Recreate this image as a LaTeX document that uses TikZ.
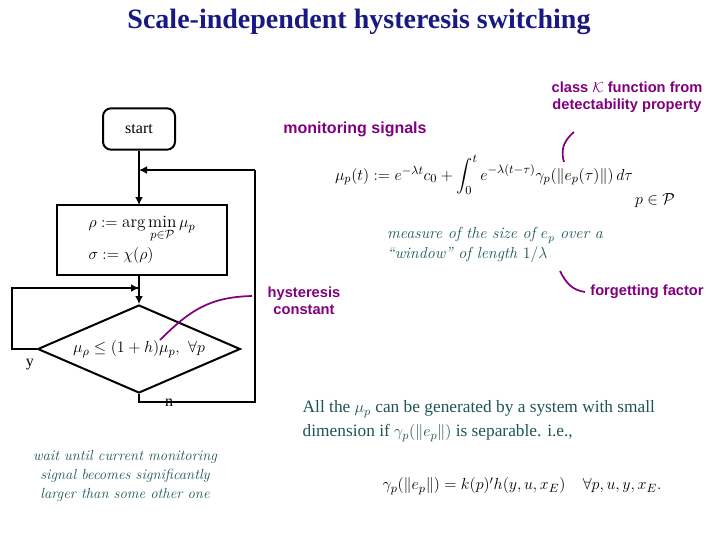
\documentclass[tikz,border=0pt]{standalone}
\usepackage{amsmath}
\usepackage{fontspec}
\newfontfamily\timesf{Liberation Serif}
\newfontfamily\arialf{Liberation Sans}
\usetikzlibrary{positioning,shapes.geometric,arrows.meta}
\definecolor{notepurple}{RGB}{128,0,128}
\definecolor{noteteal}{RGB}{30,85,85}
\definecolor{titleblue}{RGB}{25,25,130}
\tikzset{
  flow/.style={draw, line width=1.5pt},
  link/.style={line width=1.5pt, -{Latex[length=6pt,width=6pt]}},
  note/.style={text=notepurple, font=\arialf\bfseries\fontsize{11}{13}\selectfont, align=center},
  remark/.style={text=noteteal, font=\itshape\fontsize{12}{15}\selectfont, align=left},
  pointer/.style={notepurple, line width=1.3pt},
  bigmath/.style={font=\fontsize{13}{16}\selectfont}
}
\begin{document}
\begin{tikzpicture}[x=0.75pt,y=-0.75pt]
  \useasboundingbox (0,0) rectangle (720,540);
  \node (title) at (359,22) {\textcolor{titleblue}{\timesf\bfseries\fontsize{21}{24}\selectfont Scale-independent hysteresis switching}};

  % flow chart
  \node (start) [flow, rounded corners=6pt, minimum width=54pt, minimum height=31pt, font=\timesf\fontsize{12}{14}\selectfont] at (139,129) {start};
  \node (update) [flow, bigmath, minimum width=128pt, minimum height=52pt, align=left] at (142,240)
    {$\rho := \arg\min\limits_{p\in\mathcal{P}} \mu_p$\\[3pt] $\sigma := \chi(\rho)$};
  \node (test) [flow, bigmath, diamond, aspect=2.3, minimum width=152pt, minimum height=66pt, inner sep=0pt] at (139,349)
    {$\mu_\rho \le (1+h)\mu_p,\ \forall p$};
  \coordinate (back) at (139,170);
  \draw[link] (start.south) -- (139,205);
  \draw[line width=1.5pt] (test.south) -- ++(0,8) -| (255,170) coordinate (turn);
  \draw[link] (turn) -- (back);
  \draw[link] (139,275) -- (test.north);
  \draw[line width=1.5pt] (test.west) -- (12,349) |- (139,288) coordinate (join);
  \draw[link] (12,288) -- (join);
  \node (yes) [font=\timesf\fontsize{12}{14}\selectfont] at (30,365) {y};
  \node (no) [font=\timesf\fontsize{12}{14}\selectfont] at (169,403) {n};
  \node (waitnote) [text=noteteal, font=\itshape\fontsize{11}{14}\selectfont, align=center] at (125,476)
    {wait until current monitoring\\signal becomes significantly\\larger than some other one};

  % monitoring signals
  \node (mon) [note, font=\arialf\bfseries\fontsize{12}{14}\selectfont] at (355,129) {monitoring signals};
  \node (classk) [note] at (627,97) {class $\mathcal{K}$ function from\\detectability property};
  \node (mu) [bigmath] at (484,175) {$\mu_p(t) := e^{-\lambda t}c_0 + \displaystyle\int_0^t e^{-\lambda(t-\tau)}\gamma_p(\|e_p(\tau)\|)\,d\tau$};
  \node (pset) [bigmath] at (655,201) {$p\in\mathcal{P}$};
  \node (window) [remark] at (495,245) {measure of the size of $e_p$ over a\\``window'' of length $1/\lambda$};
  \node (hyst) [note] at (304,301) {hysteresis\\constant};
  \node (forget) [note] at (647,292) {forgetting factor};
  \draw[pointer] (574,132) .. controls (562,142) and (561,152) .. (564,162);
  \draw[pointer] (160,340) .. controls (190,310) and (210,297) .. (252,296);
  \draw[pointer] (560,271) .. controls (566,283) and (572,290) .. (585,292);

  % separability
  \node (allmu) [text=noteteal, font=\timesf\fontsize{13}{18}\selectfont, align=left, anchor=west] at (298,421)
    {All the $\mu_p$ can be generated by a system with small\\dimension if $\gamma_p(\|e_p\|)$ is separable. i.e.,};
  \node (sep) [bigmath] at (522,486) {$\gamma_p(\|e_p\|) = k(p)'h(y,u,x_E) \quad \forall p,u,y,x_E.$};
\end{tikzpicture}
\end{document}
